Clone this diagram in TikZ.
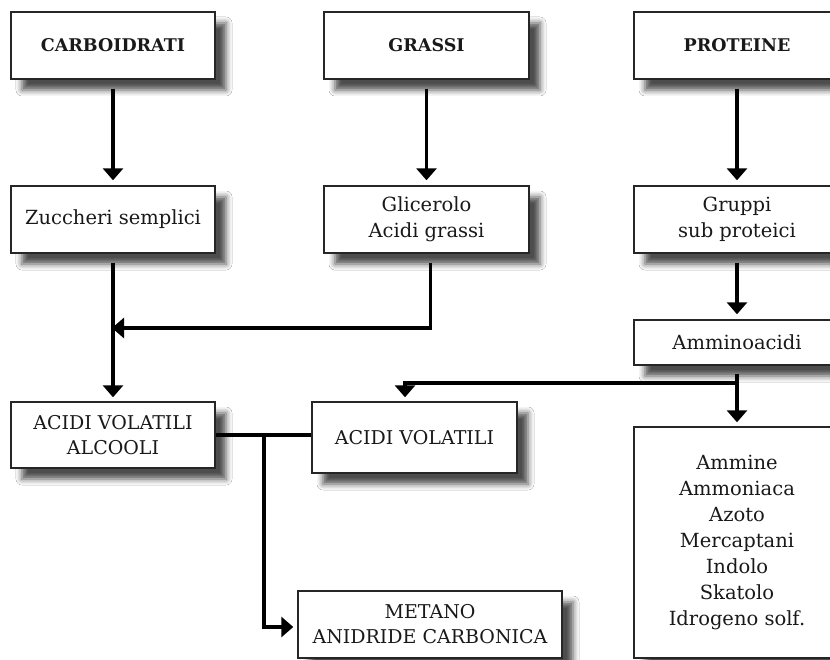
\documentclass[tikz,border=0pt]{standalone}
\usepackage{fontspec}
\setmainfont{DejaVu Serif}
\usetikzlibrary{arrows.meta,shadows.blur,calc}
\begin{document}
\begin{tikzpicture}[x=1pt,y=-1pt,
  box/.style={draw=black!85,line width=1.4pt,fill=white,align=center,inner sep=0pt,
    text=black!90,
    blur shadow={shadow xshift=11pt,shadow yshift=-11pt,shadow blur radius=6pt,shadow opacity=70}},
  capt/.style={font=\fontsize{17.5}{22}\selectfont\bfseries},
  capn/.style={font=\fontsize{19}{25}\selectfont},
  low/.style={font=\fontsize{19.5}{26}\selectfont},
  arr/.style={line width=3.2pt,-{Triangle[width=20pt,length=12pt]}},
  ln/.style={line width=3.2pt}]
\clip (0,0) rectangle (830,660);
\fill[white] (0,0) rectangle (830,660);
% top row
\node[box,capt,minimum width=204pt,minimum height=67pt] (carb) at (113,45.5) {CARBOIDRATI};
\node[box,capt,minimum width=205pt,minimum height=67pt] (gras) at (426.5,45.5) {GRASSI};
\node[box,capt,minimum width=206pt,minimum height=67pt] (prot) at (737,45.5) {PROTEINE};
% second row
\node[box,low,minimum width=204pt,minimum height=67pt] (zucc) at (113,219.5) {Zuccheri semplici};
\node[box,low,minimum width=205pt,minimum height=67pt] (glic) at (426.5,219.5) {Glicerolo\\Acidi grassi};
\node[box,low,minimum width=206pt,minimum height=67pt] (grup) at (737,219.5) {Gruppi\\sub proteici};
% amminoacidi
\node[box,low,minimum width=206pt,minimum height=45pt] (amac) at (737,342.5) {Amminoacidi};
\node[box,low,minimum width=206pt,minimum height=231pt] (amin) at (737,542.5)
  {Ammine\\Ammoniaca\\Azoto\\Mercaptani\\Indolo\\Skatolo\\Idrogeno solf.};
% lower left
\node[box,capn,minimum width=204pt,minimum height=66pt] (aval) at (113,435) {ACIDI VOLATILI\\ALCOOLI};
\node[box,capn,minimum width=205pt,minimum height=71pt] (avol) at (414.5,437.5) {ACIDI VOLATILI};
\node[box,capn,minimum width=264pt,minimum height=67pt] (meta) at (430,624.5) {METANO\\ANIDRIDE CARBONICA};
% coordinates
\coordinate (m1) at (113,328);
\coordinate (j1) at (737,383);
\coordinate (j2) at (264,435);
% connectors
\draw[arr,shorten <=9pt,shorten >=5pt] (carb) -- (zucc);
\draw[arr,shorten <=9pt,shorten >=5pt] (gras) -- (glic);
\draw[arr,shorten <=9pt,shorten >=5pt] (prot) -- (grup);
\draw[arr,shorten <=9pt,shorten >=4pt] (zucc) -- (aval);
\draw[arr,shorten <=9pt,shorten >=5pt] (grup) -- (amac);
\draw[arr,shorten <=8pt,shorten >=4pt] (amac) -- (amin);
\draw[arr,shorten >=-1pt] ([xshift=4pt,yshift=-9pt]glic.south) |- (m1);
\draw[arr,shorten >=4pt] (j1) -| ([xshift=-9.5pt]avol.north);
\draw[ln] (aval.east) -- (aval.east -| avol.west);
\draw[arr,shorten >=4pt] (j2) |- ([yshift=-2.5pt]meta.west);
\end{tikzpicture}
\end{document}
